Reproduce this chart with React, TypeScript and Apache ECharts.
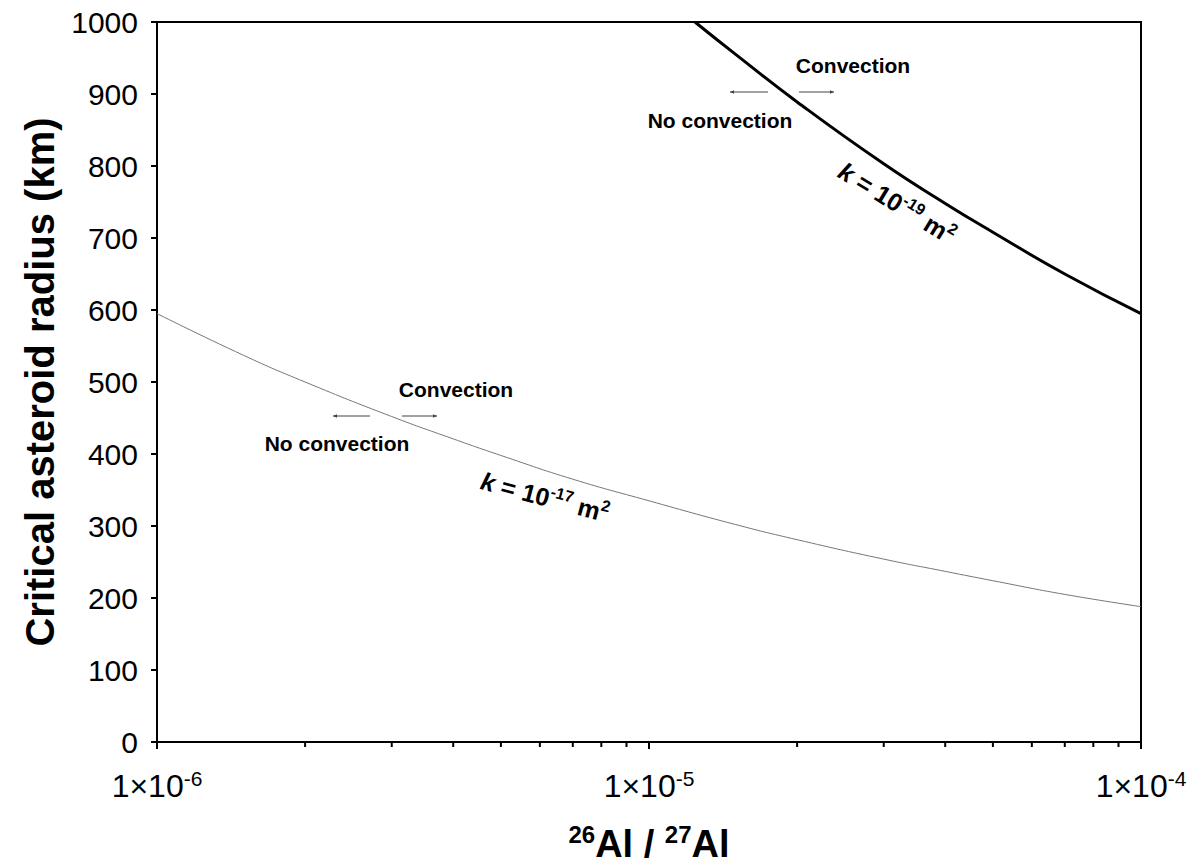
import React, { useEffect, useRef } from "react";
import * as echarts from "echarts";

// Ratio 26Al/27Al (x) and critical asteroid radius in km (y)
const lowX = [1e-6, 1.5e-6, 2e-6, 3e-6, 4e-6, 5e-6, 7e-6, 1e-5, 1.5e-5, 2e-5, 3e-5, 4e-5, 5e-5, 7e-5, 1e-4];
const lowY = [595, 537, 500, 452, 421, 398, 365, 335, 302, 281, 254, 237, 224, 205, 188];
const highX = [1.24e-5, 1.5e-5, 2e-5, 3e-5, 4e-5, 5e-5, 7e-5, 1e-4];
const highY = [1000, 955, 889, 803, 748, 708, 650, 595];
const minorTicks = [2e-6, 3e-6, 4e-6, 5e-6, 6e-6, 7e-6, 8e-6, 9e-6, 2e-5, 3e-5, 4e-5, 5e-5, 6e-5, 7e-5, 8e-5, 9e-5];
const yTicks = { min: 0, max: 1000, interval: 100 };

const FONT = "'Liberation Sans', Arial, Helvetica, sans-serif";

export default function App() {
  const ref = useRef<HTMLDivElement>(null);
  useEffect(() => {
    if (!ref.current) return;
    const chart = echarts.init(ref.current, null, { renderer: "svg" });
    const arrowColor = "#444";
    const arrow = (x1: number, x2: number, y: number) => {
      const dir = x2 > x1 ? 1 : -1;
      return [
        { type: "line", shape: { x1, y1: y, x2, y2: y }, style: { stroke: arrowColor, lineWidth: 1 } },
        {
          type: "polygon",
          shape: { points: [[x2, y], [x2 - dir * 4, y - 1.8], [x2 - dir * 4, y + 1.8]] },
          style: { fill: arrowColor },
        },
      ];
    };
    const lbl = (text: string, x: number, y: number) => ({
      type: "text",
      x,
      y,
      style: {
        text,
        font: `bold 21px ${FONT}`,
        fill: "#000",
        align: "center",
        verticalAlign: "middle",
      },
    });
    const kRich = {
      k: { fontFamily: FONT, fontWeight: "bold", fontStyle: "italic", fontSize: 25, fill: "#000", lineHeight: 30 },
      b: { fontFamily: FONT, fontWeight: "bold", fontSize: 25, fill: "#000", lineHeight: 30 },
      s: { fontFamily: FONT, fontWeight: "bold", fontSize: 16, fill: "#000", lineHeight: 30, verticalAlign: "top" },
    };
    const kLabel = (exp: string, x: number, y: number, rot: number) => ({
      type: "text",
      x,
      y,
      rotation: rot,
      style: {
        text: `{k|k}{b| = 10}{s|${exp}}{b| m}{s|2}`,
        rich: kRich,
        align: "center",
        verticalAlign: "middle",
      },
    });

    chart.setOption({
      animation: false,
      backgroundColor: "#fff",
      textStyle: { fontFamily: FONT },
      grid: { left: 157, right: 61, top: 22, bottom: 125, show: true, borderColor: "#000", borderWidth: 2 },
      xAxis: {
        type: "log",
        min: 1e-6,
        max: 1e-4,
        logBase: 10,
        splitLine: { show: false },
        axisLine: { lineStyle: { color: "#000", width: 2 } },
        axisTick: { show: true, length: 7, lineStyle: { color: "#000", width: 2 } },
        axisLabel: {
          margin: 26,
          formatter: (v: number) => `{n|1×10}{s|${Math.round(Math.log10(v))}}`,
          rich: {
            n: { fontSize: 32, color: "#000", fontFamily: FONT, lineHeight: 36 },
            s: { fontSize: 21, color: "#000", fontFamily: FONT, lineHeight: 36, verticalAlign: "top" },
          },
        },
        name: "{s|26}{n|Al / }{s|27}{n|Al}",
        nameLocation: "middle",
        nameGap: 80,
        nameTextStyle: {
          rich: {
            n: { fontSize: 38, fontWeight: "bold", color: "#000", fontFamily: FONT, lineHeight: 44 },
            s: { fontSize: 24, fontWeight: "bold", color: "#000", fontFamily: FONT, lineHeight: 44, verticalAlign: "top" },
          },
        },
      },
      yAxis: {
        type: "value",
        min: yTicks.min,
        max: yTicks.max,
        interval: yTicks.interval,
        splitLine: { show: false },
        axisLine: { show: true, lineStyle: { color: "#000", width: 2 } },
        axisTick: { show: true, length: 6, lineStyle: { color: "#000", width: 2 } },
        axisLabel: { fontSize: 30, color: "#000", margin: 19, fontFamily: FONT, formatter: (v: number) => String(v) },
        name: "Critical asteroid radius (km)",
        nameLocation: "middle",
        nameRotate: 90,
        nameGap: 97,
        nameTextStyle: { fontSize: 40, fontWeight: "bold", color: "#000", fontFamily: FONT },
      },
      series: [
        {
          name: "k = 1e-17",
          type: "line",
          data: lowX.map((x, i) => [x, lowY[i]]),
          smooth: true,
          showSymbol: false,
          lineStyle: { color: "#777", width: 1 },
        },
        {
          name: "k = 1e-19",
          type: "line",
          data: highX.map((x, i) => [x, highY[i]]),
          smooth: true,
          showSymbol: false,
          lineStyle: { color: "#000", width: 3 },
        },
        {
          type: "custom",
          clip: false,
          silent: true,
          data: minorTicks.map((x) => [x, 0]),
          renderItem: (params: any, api: any) => {
            const p = api.coord([api.value(0), api.value(1)]);
            return {
              type: "line",
              shape: { x1: p[0], y1: p[1], x2: p[0], y2: p[1] + 5 },
              style: { stroke: "#000", lineWidth: 2 },
            };
          },
        },
      ],
      graphic: [
        lbl("Convection", 853, 65),
        lbl("No convection", 720, 120),
        ...arrow(768, 730, 92),
        ...arrow(799, 834, 92),
        lbl("Convection", 456, 389),
        lbl("No convection", 337, 443),
        ...arrow(370, 333, 416),
        ...arrow(402, 437, 416),
        kLabel("-19", 897, 203, -0.55),
        kLabel("-17", 545, 497, -0.26),
      ],
    });
    return () => chart.dispose();
  }, []);
  return <div ref={ref} style={{ position: "fixed", left: 0, top: 0, width: 1202, height: 868 }} />;
}
